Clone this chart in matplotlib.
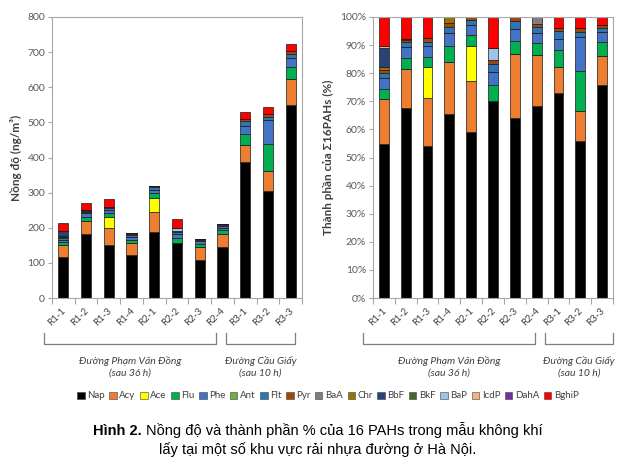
import numpy as np
import matplotlib
matplotlib.use("Agg")
import matplotlib.pyplot as plt
from matplotlib.lines import Line2D
from matplotlib.patches import Patch

plt.rcParams['font.family'] = ['Lato', 'DejaVu Sans']

samples = ["R1-1", "R1-2", "R1-3", "R1-4", "R2-1", "R2-2", "R2-3", "R2-4", "R3-1", "R3-2", "R3-3"]

# concentrations, ng/m3
nap   = [117, 183, 152, 121, 188, 158, 108, 145, 386, 305, 549]
acy   = [33.4, 37.1, 48.3, 34.6, 57.9, 0, 38.3, 38.6, 50.4, 56.6, 73.1]
ace   = [0, 0, 30.1, 0, 38.8, 0, 0, 0, 0, 0, 0]
flu   = [7.9, 10.6, 10.7, 10.0, 13.0, 12.9, 7.6, 8.7, 31.9, 77.8, 36.2]
phe   = [8.1, 10.6, 10.7, 8.7, 10.5, 10.6, 7.4, 7.6, 20.2, 66.4, 25.3]
ant   = [0, 0, 0, 0, 0, 0, 0, 0, 0, 0, 0]
flt   = [4.3, 4.9, 4.2, 3.9, 6.4, 6.3, 4.7, 4.5, 14.3, 8.7, 11.6]
pyr   = [2.1, 2.2, 3.4, 2.8, 3.2, 3.2, 2.5, 2.5, 6.4, 8.7, 8.7]
baa   = [0, 0, 0, 0, 0, 0, 0, 5.1, 0, 0, 0]
chr_  = [2.3, 0.8, 0, 3.9, 0, 0, 0, 0, 0, 0, 0]
bbf   = [14.5, 0, 0, 0, 0, 0, 0, 0, 0, 0, 0]
bkf   = [0, 0, 0, 0, 0, 0, 0, 0, 0, 0, 0]
bap   = [0, 0, 0, 0, 0, 9.7, 0, 0, 0, 0, 0]
icdp  = [1.1, 0, 0, 0, 0, 0, 0, 0, 0, 0, 0]
daha  = [0, 0, 0, 0, 0, 0, 0, 0, 0, 0, 0]
bghip = [22.2, 21.4, 21.4, 0, 0, 24.9, 0, 0, 20.7, 21.2, 19.5]

compounds = ["Nap", "Acy", "Ace", "Flu", "Phe", "Ant", "Flt", "Pyr",
             "BaA", "Chr", "BbF", "BkF", "BaP", "IcdP", "DahA", "BghiP"]
series = [nap, acy, ace, flu, phe, ant, flt, pyr, baa, chr_, bbf, bkf, bap, icdp, daha, bghip]
colors = ["#000000", "#ED7D31", "#FFFF00", "#00B050", "#4472C4", "#70AD47", "#2E75B6", "#9E480E",
          "#7F7F7F", "#997300", "#264478", "#43682B", "#9DC3E6", "#F4B183", "#7030A0", "#FF0000"]

groups = ["Đường Phạm Văn Đồng\n(sau 36 h)", "Đường Cầu Giấy\n(sau 10 h)"]

data = np.array(series, dtype=float)
pct = data / data.sum(axis=0) * 100

W, H = 634, 467
fig = plt.figure(figsize=(W / 100, H / 100), dpi=100)
ax1 = fig.add_axes([52 / W, 1 - 298 / H, 250 / W, 281 / H])
ax2 = fig.add_axes([373 / W, 1 - 298 / H, 240 / W, 281 / H])

x = np.arange(len(samples))
grey = "#A6A6A6"
tcol = "#404040"


def stacked(ax, vals):
    bottom = np.zeros(len(samples))
    for v, c in zip(vals, colors):
        ax.bar(x, v, 0.45, bottom=bottom, color=c, edgecolor="#1a1a1a", linewidth=0.5)
        bottom += v


def style(ax):
    ax.set_xlim(-0.5, len(samples) - 0.5)
    for s in ax.spines.values():
        s.set_color(grey)
        s.set_linewidth(0.8)
    ax.set_xticks(x)
    ax.set_xticklabels([])
    ax.tick_params(axis="x", which="major", length=0)
    ax.set_xticks(np.arange(-0.5, len(samples)), minor=True)
    ax.tick_params(axis="x", which="minor", length=4, color=grey, width=0.8)
    ax.tick_params(axis="y", length=3, color=grey, width=0.8, labelsize=7.5, labelcolor="#595959", pad=2)
    for xi, lab in zip(x, samples):
        ax.annotate(lab, (xi, 0), xycoords=("data", "axes fraction"),
                    xytext=(1, -8), textcoords="offset points",
                    rotation=45, ha="right", va="center", rotation_mode="anchor",
                    fontsize=7, color="#404040", annotation_clip=False)


stacked(ax1, data)
style(ax1)
ax1.set_ylim(0, 800)
ax1.set_yticks(range(0, 801, 100))
ax1.set_ylabel("Nồng độ (ng/m³)", fontsize=8.5, fontweight="bold", color=tcol, labelpad=4)

stacked(ax2, pct)
style(ax2)
ax2.set_ylim(0, 100)
ax2.set_yticks(range(0, 101, 10))
ax2.set_yticklabels([f"{v}%" for v in range(0, 101, 10)])
ax2.set_ylabel("Thành phần của Σ16PAHs (%)", fontsize=8.5, fontweight="bold", color=tcol, labelpad=4)

# group brackets under the category labels
brackets = [(44, 216), (226, 295), (363, 535), (545, 613)]
y_top, y_bot = 333, 344
for k, (xa, xb) in enumerate(brackets):
    xs = np.array([xa, xa, xb, xb]) / W
    ys = 1 - np.array([y_top, y_bot, y_bot, y_top]) / H
    fig.add_artist(Line2D(xs, ys, color="#7F7F7F", linewidth=0.9))
    fig.text((xa + xb) / 2 / W, 1 - 367 / H, groups[k % 2], ha="center", va="center",
             fontsize=7.5, style="italic", color=tcol, linespacing=1.3)

handles = [Patch(facecolor=c, edgecolor="#404040", linewidth=0.4) for c in colors]
fig.legend(handles, compounds, loc="center", bbox_to_anchor=(328 / W, 1 - 396 / H), ncol=16,
           frameon=False, fontsize=7, handlelength=0.75, handleheight=0.75,
           handletextpad=0.25, columnspacing=0.5, labelcolor=tcol)

# caption: bold figure number + regular text, line 1 centred as a whole
cap_font = ["Liberation Sans", "DejaVu Sans"]
cap_size = 10.5
cx = 318
y1 = 1 - 435 / H
pre = fig.text(0, y1, "Hình 2. ", fontsize=cap_size, fontweight="bold", family=cap_font, va="baseline")
t1 = fig.text(0, y1, "Nồng độ và thành phần % của 16 PAHs trong mẫu không khí",
              fontsize=cap_size, family=cap_font, va="baseline")
r = fig.canvas.get_renderer()
pw = pre.get_window_extent(renderer=r).width
tw = t1.get_window_extent(renderer=r).width
start = cx - (pw + tw) / 2
pre.set_x(start / W)
t1.set_x((start + pw) / W)
fig.text(cx / W, 1 - 454 / H, "lấy tại một số khu vực rải nhựa đường ở Hà Nội.",
         ha="center", va="baseline", fontsize=cap_size, family=cap_font)

fig.savefig("out.png", dpi=100)
